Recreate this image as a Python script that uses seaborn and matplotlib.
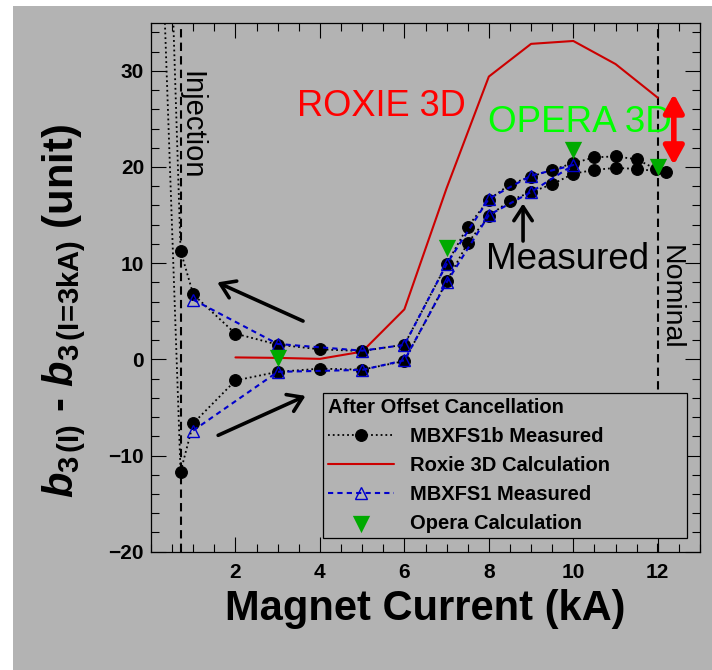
import matplotlib
matplotlib.use('Agg')
import matplotlib.pyplot as plt
import seaborn as sns
from matplotlib.patches import Rectangle
from matplotlib.ticker import MultipleLocator

# MBXFS1b measured: ramp up (lower branch) then ramp down (upper branch)
b1_current = [0.25, 0.7, 1, 2, 3, 4, 5, 6, 7, 7.5, 8, 8.5, 9, 9.5, 10, 10.5, 11, 11.5, 12.2,
              11.95, 11.5, 11, 10.5, 10, 9.5, 9, 8.5, 8, 7.5, 7, 6, 5, 4, 3, 2, 1, 0.7, 0.45]
b1_b3 = [45, -11.7, -6.65, -2.2, -1.3, -0.97, -1.07, -0.18, 8.1, 12.1, 14.9, 16.5, 17.4, 18.2, 19.3, 19.7, 19.9, 19.8, 19.45,
         19.8, 20.8, 21.1, 21.0, 20.4, 19.7, 19.0, 18.2, 16.6, 13.8, 9.9, 1.53, 0.86, 1.04, 1.53, 2.67, 6.75, 11.3, 46]

# MBXFS1 measured
s1_current = [1, 3, 5, 6, 7, 8, 9, 10, 9, 8, 7, 6, 5, 3, 1]
s1_b3 = [-7.4, -1.3, -1.1, -0.1, 8.0, 15.0, 17.4, 20.2, 19.1, 16.7, 9.9, 1.5, 0.9, 1.6, 6.2]

# Roxie 3D calculation
roxie_current = [2, 3, 4, 5, 6, 7, 8, 9, 10, 11, 12]
roxie_b3 = [0.2, 0.15, 0.05, 0.8, 5.2, 17.8, 29.4, 32.8, 33.1, 30.7, 27.2]

# Opera calculation
opera_current = [3, 7, 10, 12]
opera_b3 = [0.1, 11.6, 21.8, 20.0]

injection = 0.7
nominal = 12.0

gray = '#b3b3b3'
sns.set_style('ticks')
plt.rcParams['font.family'] = ['Liberation Sans', 'DejaVu Sans']
plt.rcParams['text.color'] = 'k'
plt.rcParams['axes.labelcolor'] = 'k'
plt.rcParams['legend.labelcolor'] = 'k'
plt.rcParams['mathtext.fontset'] = 'custom'
plt.rcParams['mathtext.rm'] = 'Liberation Sans:bold'
plt.rcParams['mathtext.it'] = 'Liberation Sans:italic:bold'
plt.rcParams['mathtext.bf'] = 'Liberation Sans:bold'

fig = plt.figure(figsize=(7.12, 6.7), dpi=100)
fig.patch.set_facecolor('white')
fig.add_artist(Rectangle((13 / 712, 0), 1 - 13 / 712, 1 - 6 / 670, transform=fig.transFigure,
                         facecolor=gray, edgecolor='none', zorder=-10))
ax = fig.add_axes([151 / 712, 1 - 551.7 / 670, 549 / 712, 529 / 670])
ax.set_facecolor(gray)

ax.axvline(injection, color='k', lw=1.5, linestyle=(0, (4, 2.5)), zorder=1)
ax.axvline(nominal, color='k', lw=1.5, linestyle=(0, (4, 2.5)), zorder=1)

sns.lineplot(x=b1_current, y=b1_b3, sort=False, estimator=None, ax=ax, color='k',
             linestyle=':', linewidth=1.3, marker='o', markersize=8.5, markeredgecolor='k',
             label='MBXFS1b Measured', zorder=3)
sns.lineplot(x=roxie_current, y=roxie_b3, sort=False, estimator=None, ax=ax, color='#cc0000',
             linewidth=1.5, label='Roxie 3D Calculation', zorder=2)
sns.lineplot(x=s1_current, y=s1_b3, sort=False, estimator=None, ax=ax, color='#0000cc',
             linestyle=(0, (2.5, 2)), linewidth=1.5, marker='^', markersize=8,
             markerfacecolor='none', markeredgecolor='#0000cc', markeredgewidth=1,
             label='MBXFS1 Measured', zorder=4)
sns.scatterplot(x=opera_current, y=opera_b3, ax=ax, marker='v', s=155, color='#00aa00',
                edgecolor='#00aa00', linewidth=0, label='Opera Calculation', zorder=5)

ax.set_xlim(0, 13)
ax.set_ylim(-20, 35)
ax.set_xticks([2, 4, 6, 8, 10, 12])
ax.set_yticks([-20, -10, 0, 10, 20, 30])
ax.xaxis.set_minor_locator(MultipleLocator(0.5))
ax.yaxis.set_minor_locator(MultipleLocator(2))
ax.tick_params(which='both', direction='in', top=True, right=True, width=0.8, colors='k',
               labelsize=15)
ax.tick_params(which='major', length=11)
ax.tick_params(which='minor', length=5.5)
ax.tick_params(axis='x', pad=8)
ax.tick_params(axis='y', pad=5)
for lab in ax.get_xticklabels() + ax.get_yticklabels():
    lab.set_fontweight('bold')
for sp in ax.spines.values():
    sp.set_color('k')
    sp.set_linewidth(0.9)

ax.set_xlabel('Magnet Current (kA)', fontsize=30, fontweight='bold', color='k')
ax.xaxis.set_label_coords(0.5, -0.07)
ax.set_ylabel(r'$b_{3\,(\mathrm{I})}$ - $b_{3\,(\mathrm{I\!=\!3kA})}$ (unit)', fontsize=30,
              fontweight='bold', color='k')
ax.yaxis.set_label_coords(-0.115, 0.455)

# annotations
ax.text(3.45, 25.3, 'ROXIE 3D', color='#ff0000', fontsize=26, ha='left', va='baseline')
ax.text(7.98, 23.6, 'OPERA 3D', color='#00ff00', fontsize=26.5, ha='left', va='baseline')
ax.text(7.93, 9.35, 'Measured', color='k', fontsize=26.5, ha='left', va='baseline')
ax.text(0.96, 24.3, 'Injection', color='k', fontsize=21, rotation=270, ha='center', va='center')
ax.text(12.3, 6.4, 'Nominal', color='k', fontsize=20.5, rotation=270, ha='center', va='center')

black_arrow = dict(arrowstyle='->,head_length=0.5,head_width=0.33', color='k', lw=2.6,
                   mutation_scale=20, shrinkA=0, shrinkB=0)
ax.annotate('', xy=(1.57, 8.0), xytext=(3.6, 3.98), arrowprops=black_arrow)
ax.annotate('', xy=(3.66, -3.8), xytext=(1.59, -7.9), arrowprops=black_arrow)
ax.annotate('', xy=(8.81, 16.2), xytext=(8.81, 12.3), arrowprops=black_arrow)
ax.annotate('', xy=(12.38, 27.6), xytext=(12.38, 20.2),
            arrowprops=dict(arrowstyle='<|-|>,head_length=0.55,head_width=0.3', color='#ff0000',
                            lw=4, mutation_scale=20, shrinkA=0, shrinkB=0))

handles, labels = ax.get_legend_handles_labels()
leg = ax.legend(handles, labels, title='After Offset Cancellation', loc='upper left',
                bbox_to_anchor=(0.313, 0.028, 0.663, 0.272), mode='expand', borderaxespad=0,
                prop={'weight': 'bold', 'size': 14.5},
                title_fontproperties={'weight': 'bold', 'size': 14.5},
                alignment='left', frameon=True, fancybox=False, framealpha=1,
                facecolor=gray, edgecolor='k', labelspacing=0.5, borderpad=0.25,
                handlelength=3.3, handletextpad=0.8, scatterpoints=1)
leg.get_frame().set_linewidth(0.9)
leg.get_title().set_color('k')

fig.savefig('out.png', dpi=100, facecolor=fig.get_facecolor())
